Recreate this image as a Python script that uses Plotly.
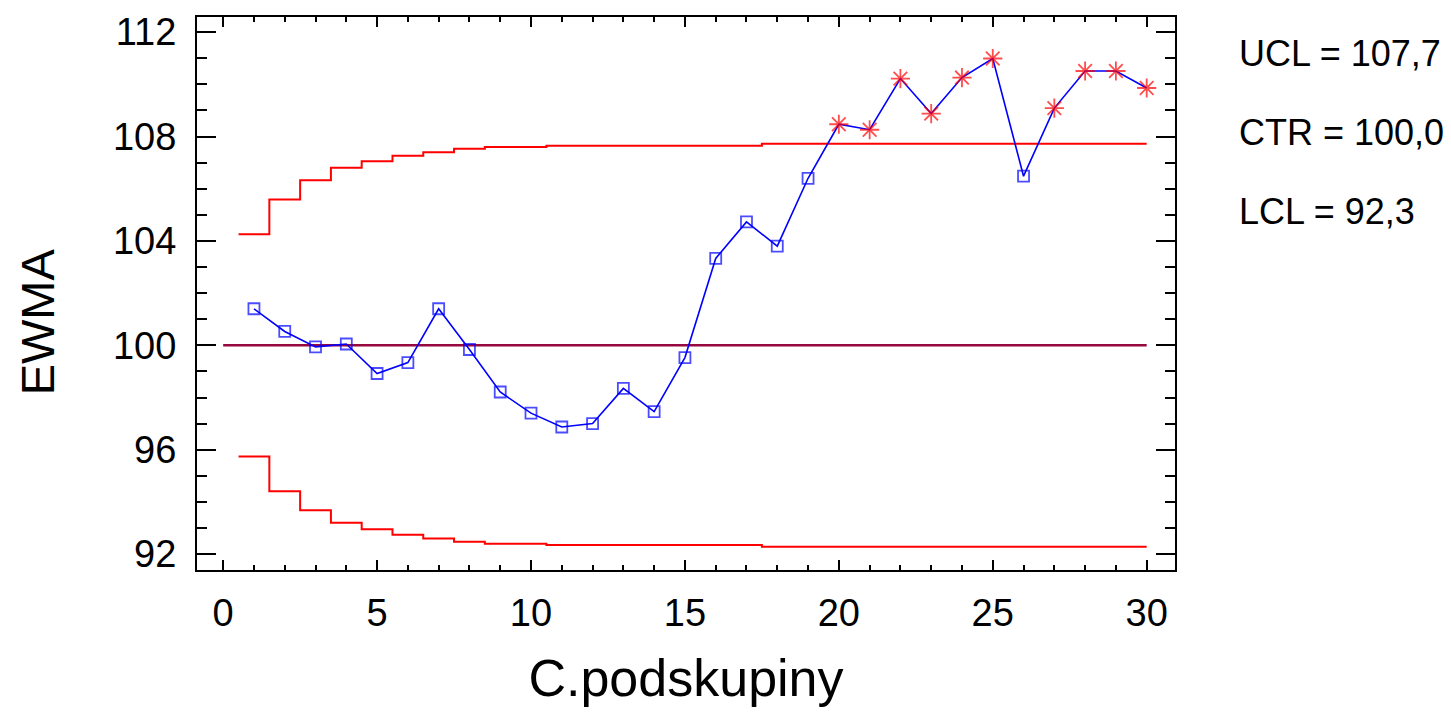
import plotly.graph_objects as go

# Subgroup numbers
subgroups = list(range(1, 31))

# EWMA values
ewma = [101.40, 100.53, 99.94, 100.05, 98.92, 99.34, 101.40, 99.84, 98.21, 97.40,
        96.87, 97.00, 98.35, 97.46, 99.53, 103.33, 104.73, 103.80, 106.40, 108.47,
        108.26, 110.22, 108.88, 110.26, 110.99, 106.48, 109.09, 110.51, 110.51, 109.86]

# Control limits per subgroup (step lines)
ucl = [104.26, 105.59, 106.32, 106.80, 107.05, 107.26, 107.40, 107.53, 107.60, 107.60,
       107.65, 107.65, 107.65, 107.65, 107.65, 107.65, 107.65,
       107.72, 107.72, 107.72, 107.72, 107.72, 107.72, 107.72, 107.72, 107.72, 107.72,
       107.72, 107.72, 107.72]
lcl = [95.74, 94.41, 93.68, 93.20, 92.95, 92.74, 92.60, 92.47, 92.40, 92.40,
       92.35, 92.35, 92.35, 92.35, 92.35, 92.35, 92.35,
       92.28, 92.28, 92.28, 92.28, 92.28, 92.28, 92.28, 92.28, 92.28, 92.28,
       92.28, 92.28, 92.28]
ctr = 100.0

summary_labels = ["UCL = 107,7", "CTR = 100,0", "LCL = 92,3"]
x_ticks = [0, 5, 10, 15, 20, 25, 30]
y_ticks = [92, 96, 100, 104, 108, 112]

FONT = "Liberation Sans Narrow, Arial Narrow, Liberation Sans, Arial, sans-serif"

fig = go.Figure()

# step x positions: each subgroup spans i-0.5..i+0.5, last ends at 30
step_x = [s - 0.5 for s in subgroups] + [subgroups[-1]]

fig.add_trace(go.Scatter(x=step_x, y=ucl + [ucl[-1]], mode="lines", line_shape="hv",
                         line=dict(color="#FF0000", width=2), showlegend=False, hoverinfo="skip"))
fig.add_trace(go.Scatter(x=step_x, y=lcl + [lcl[-1]], mode="lines", line_shape="hv",
                         line=dict(color="#FF0000", width=2), showlegend=False, hoverinfo="skip"))
fig.add_trace(go.Scatter(x=[0, 30], y=[ctr, ctr], mode="lines",
                         line=dict(color="#96083E", width=2.5), showlegend=False, hoverinfo="skip"))

out = [v > u for v, u in zip(ewma, ucl)]
symbols = ["asterisk-open" if o else "square-open" for o in out]
colors = ["#FF0000" if o else "#0000FF" for o in out]
sizes = [16 if o else 11 for o in out]

fig.add_trace(go.Scatter(x=subgroups, y=ewma, mode="lines+markers",
                         line=dict(color="#0000FF", width=1.6),
                         marker=dict(symbol=symbols, color=colors, size=sizes,
                                     line=dict(width=1.8)),
                         showlegend=False))

for i, txt in enumerate(summary_labels):
    fig.add_annotation(text=txt, xref="paper", yref="paper",
                       x=1.0, xanchor="left", xshift=62,
                       y=1.0, yanchor="middle", yshift=-(50 - 14) - i * 79,
                       showarrow=False, font=dict(family=FONT, size=36, color="black"))

# y-axis title (placed below the plot centre as in the reference)
fig.add_annotation(text="EWMA", textangle=-90, xref="paper", yref="paper",
                   x=0, xanchor="center", xshift=-160,
                   y=(570 - 321) / 556, yanchor="middle",
                   showarrow=False, font=dict(family=FONT, size=47, color="black"))

axis_common = dict(showline=True, linecolor="black", linewidth=2, mirror="ticks",
                   ticks="inside", tickcolor="black", tickwidth=2, showgrid=False,
                   zeroline=False, tickfont=dict(family=FONT, size=38, color="black"))

fig.update_xaxes(range=[-0.85, 30.92], tickvals=x_ticks, ticklen=10,
                 minor=dict(ticks="inside", dtick=1, tick0=0, ticklen=5, tickwidth=1.5, tickcolor="black"),
                 ticklabelstandoff=8,
                 title=dict(text="C.podskupiny", font=dict(family=FONT, size=52, color="black"), standoff=27),
                 **axis_common)
fig.update_yaxes(range=[91.39, 112.58], tickvals=y_ticks, ticklen=19,
                 minor=dict(ticks="inside", dtick=1, tick0=0, ticklen=10, tickwidth=1.5, tickcolor="black"),
                 ticklabelstandoff=11,
                 **axis_common)

fig.update_layout(width=1451, height=721, margin=dict(l=197, r=276, t=14, b=151),
                  plot_bgcolor="white", paper_bgcolor="white")

fig.write_html("out.html")
